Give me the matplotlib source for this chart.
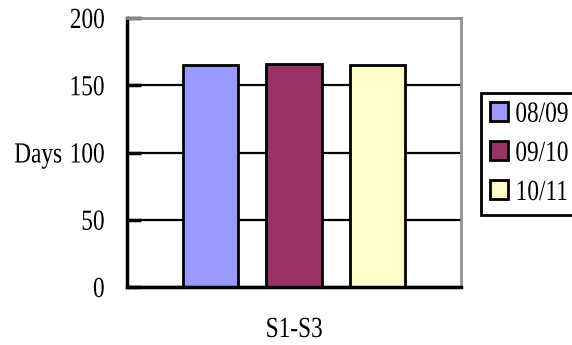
import matplotlib.pyplot as plt
from matplotlib.patches import Patch
from matplotlib.patheffects import AbstractPathEffect
from matplotlib.transforms import Affine2D

plt.rcParams['font.family'] = ['Liberation Serif', 'DejaVu Serif']

seasons = ['08/09', '09/10', '10/11']
days = [165, 166, 165]
colors = ['#9999ff', '#993366', '#ffffcc']
category = 'S1-S3'
yticks = [0, 50, 100, 150, 200]


class Squeeze(AbstractPathEffect):
    """Narrow the glyphs horizontally, keeping one edge of the text fixed."""

    def __init__(self, sx=0.8, anchor='center'):
        super().__init__()
        self.sx = sx
        self.anchor = anchor

    def draw_path(self, renderer, gc, tpath, affine, rgbFace=None):
        ext = tpath.get_extents()
        x0 = {'left': ext.x0, 'right': ext.x1,
              'center': (ext.x0 + ext.x1) / 2}[self.anchor]
        t = Affine2D().translate(-x0, 0).scale(self.sx, 1).translate(x0, 0)
        renderer.draw_path(gc, tpath, t + affine, rgbFace)


fig = plt.figure(figsize=(5.72, 3.45), dpi=100)
ax = fig.add_axes([127 / 572, 1 - 287 / 345, 334 / 572, 269 / 345])

ax.set_axisbelow(True)
ax.yaxis.grid(True, color='black', linewidth=1.6)
ax.bar(range(len(days)), days, width=0.67, color=colors,
       edgecolor='black', linewidth=2)

ax.set_xlim(-1, 3)
ax.set_ylim(0, 200)
ax.set_yticks(yticks)
ax.set_xticks([])
ax.tick_params(axis='y', direction='in', length=10, width=2.5, pad=16,
               labelsize=21)
for lbl in ax.get_yticklabels():
    lbl.set_path_effects([Squeeze(0.8, 'right')])

xl = ax.set_xlabel(category, fontsize=21, va='baseline')
ax.xaxis.set_label_coords(0.5, (287 - 337) / 269)
xl.set_path_effects([Squeeze(0.8, 'center')])

yl = ax.set_ylabel('Days', fontsize=21, rotation=0, va='center_baseline',
                   ha='left')
ax.yaxis.set_label_coords((14 - 127) / 334, 0.5)
yl.set_path_effects([Squeeze(0.8, 'left')])

for side in ['left', 'bottom']:
    ax.spines[side].set_linewidth(2.5)
    ax.spines[side].set_color('black')
for side in ['top', 'right']:
    ax.spines[side].set_linewidth(2)
    ax.spines[side].set_color('#909090')

handles = [Patch(facecolor=c, edgecolor='black', linewidth=2) for c in colors]
leg = fig.legend(handles, seasons, loc='upper left',
                 bbox_to_anchor=(481 / 572, 1 - 93 / 345), fontsize=21,
                 frameon=True, fancybox=False, framealpha=1,
                 handlelength=0.62, handleheight=0.62, handletextpad=0.25,
                 labelspacing=0.45, borderpad=0.3, borderaxespad=0)
leg.get_frame().set_edgecolor('black')
leg.get_frame().set_linewidth(2)
for txt in leg.get_texts():
    txt.set_path_effects([Squeeze(0.8, 'left')])

fig.savefig('out.png', dpi=100)
